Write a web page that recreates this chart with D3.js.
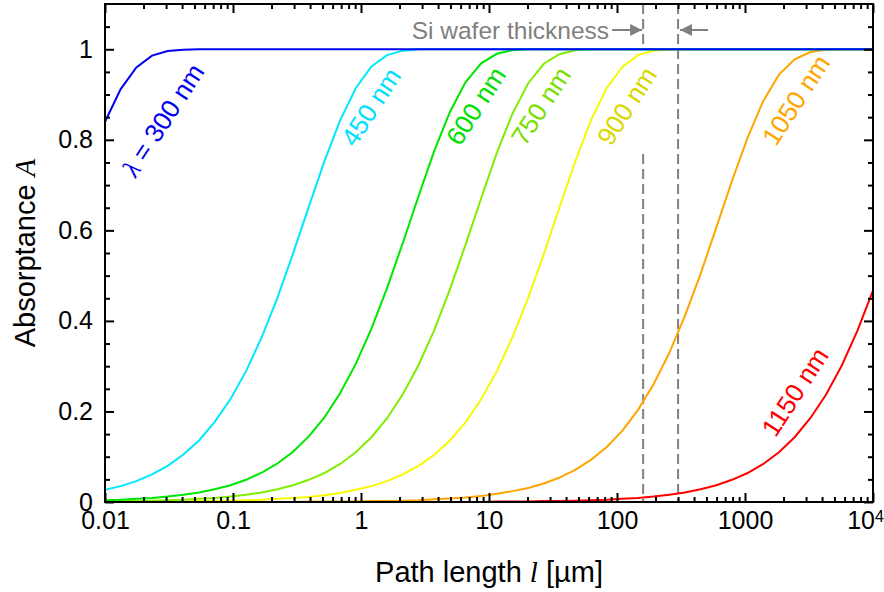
<!DOCTYPE html>
<html>
<head>
<meta charset="utf-8">
<script src="https://cdn.jsdelivr.net/npm/d3@7"></script>
<style>
  body { margin: 0; background: #fff; }
  text { font-family: "Liberation Sans", Arial, sans-serif; }
</style>
</head>
<body>
<div id="chart"></div>
<script>
// path length samples [µm]
const pathLength = [0.01, 0.01326, 0.01758, 0.0233, 0.03089, 0.04095, 0.05429, 0.07197, 0.09541, 0.1265,
  0.1677, 0.2223, 0.2947, 0.3907, 0.518, 0.6867, 0.9103, 1.207, 1.6, 2.121,
  2.812, 3.728, 4.942, 6.551, 8.685, 11.51, 15.26, 20.24, 26.83, 35.56,
  47.15, 62.51, 82.86, 109.9, 145.6, 193.1, 256, 339.3, 449.8, 596.4,
  790.6, 1048, 1390, 1842, 2442, 3237, 4292, 5690, 7543, 10000];

const absorb300 = [0.840, 0.912, 0.960, 0.986, 0.996, 0.999, 1, 1, 1, 1,
  1, 1, 1, 1, 1, 1, 1, 1, 1, 1,
  1, 1, 1, 1, 1, 1, 1, 1, 1, 1,
  1, 1, 1, 1, 1, 1, 1, 1, 1, 1,
  1, 1, 1, 1, 1, 1, 1, 1, 1, 1];
const absorb450 = [0.027, 0.035, 0.046, 0.061, 0.080, 0.105, 0.136, 0.177, 0.227, 0.289,
  0.364, 0.451, 0.549, 0.652, 0.753, 0.843, 0.914, 0.962, 0.987, 0.997,
  1, 1, 1, 1, 1, 1, 1, 1, 1, 1,
  1, 1, 1, 1, 1, 1, 1, 1, 1, 1,
  1, 1, 1, 1, 1, 1, 1, 1, 1, 1];
const absorb600 = [0.004, 0.005, 0.007, 0.009, 0.012, 0.016, 0.021, 0.028, 0.037, 0.049,
  0.065, 0.085, 0.111, 0.145, 0.187, 0.240, 0.305, 0.383, 0.473, 0.572,
  0.675, 0.775, 0.861, 0.927, 0.969, 0.990, 0.998, 1, 1, 1,
  1, 1, 1, 1, 1, 1, 1, 1, 1, 1,
  1, 1, 1, 1, 1, 1, 1, 1, 1, 1];
const absorb750 = [0.001, 0.002, 0.002, 0.003, 0.004, 0.005, 0.007, 0.009, 0.012, 0.016,
  0.021, 0.028, 0.037, 0.049, 0.064, 0.084, 0.110, 0.143, 0.185, 0.238,
  0.302, 0.379, 0.469, 0.568, 0.671, 0.771, 0.858, 0.925, 0.968, 0.989,
  0.998, 1, 1, 1, 1, 1, 1, 1, 1, 1,
  1, 1, 1, 1, 1, 1, 1, 1, 1, 1];
const absorb900 = [0, 0, 0.001, 0.001, 0.001, 0.001, 0.002, 0.002, 0.003, 0.004,
  0.005, 0.007, 0.009, 0.011, 0.015, 0.020, 0.027, 0.035, 0.046, 0.061,
  0.080, 0.104, 0.136, 0.176, 0.227, 0.289, 0.364, 0.451, 0.548, 0.651,
  0.752, 0.843, 0.914, 0.961, 0.987, 0.997, 0.999, 1, 1, 1,
  1, 1, 1, 1, 1, 1, 1, 1, 1, 1];
const absorb1050 = [0, 0, 0, 0, 0, 0, 0, 0, 0, 0,
  0, 0, 0, 0.001, 0.001, 0.001, 0.001, 0.002, 0.002, 0.003,
  0.004, 0.006, 0.008, 0.010, 0.013, 0.018, 0.024, 0.031, 0.041, 0.054,
  0.071, 0.093, 0.121, 0.157, 0.203, 0.260, 0.329, 0.411, 0.504, 0.606,
  0.709, 0.805, 0.886, 0.944, 0.978, 0.994, 0.999, 1, 1, 1];
const absorb1150 = [0, 0, 0, 0, 0, 0, 0, 0, 0, 0,
  0, 0, 0, 0, 0, 0, 0, 0, 0, 0,
  0, 0, 0, 0, 0, 0.001, 0.001, 0.001, 0.002, 0.002,
  0.003, 0.004, 0.005, 0.007, 0.009, 0.012, 0.016, 0.021, 0.028, 0.037,
  0.049, 0.064, 0.084, 0.110, 0.143, 0.185, 0.237, 0.301, 0.378, 0.467];

const wavelengths = [300, 450, 600, 750, 900, 1050, 1150];
const absorbSeries = [absorb300, absorb450, absorb600, absorb750, absorb900, absorb1050, absorb1150];
const waferThickness = [160, 300];

const xMajorTicks = [0.01, 0.1, 1, 10, 100, 1000, 10000];
const xTickLabels = ["0.01", "0.1", "1", "10", "100", "1000", "10^4"];
const yMajorTicks = [0, 0.2, 0.4, 0.6, 0.8, 1];
const yTickLabels = ["0", "0.2", "0.4", "0.6", "0.8", "1"];

// styles
const lineColors = ["#0000f0", "#00e8ff", "#00e600", "#80ee00", "#f8f800", "#ffa500", "#ff0000"];
const textColors = ["#0000f0", "#00e0ff", "#00e000", "#78e000", "#d8d800", "#ffa500", "#ff0000"];
// label centres in pixels (relative to plot area)
const labelSpots = [[58, 116], [266, 103], [371, 102], [436, 102], [522, 102], [691, 96], [690, 388]];

const margin = { top: 4, right: 11, bottom: 90, left: 105 };
const width = 884 - margin.left - margin.right;
const height = 592 - margin.top - margin.bottom;

const root = d3.select("#chart").append("svg")
  .attr("width", 884)
  .attr("height", 592);

const svg = root.append("g")
  .attr("transform", `translate(${margin.left}, ${margin.top})`);

const x = d3.scaleLog().domain([0.01, 10000]).range([0, width]);
const y = d3.scaleLinear().domain([0, 1.1]).range([height, 0]);

// minor tick values
const xMinor = [];
xMajorTicks.slice(0, -1).forEach(d => {
  for (let k = 2; k <= 9; k++) xMinor.push(d * k);
});
const yMinor = d3.range(0, 23).map(i => i * 0.05).filter(v => v < 1.1 && Math.round(v * 100) % 20 !== 0);

// wafer thickness dashed lines
const dashColor = "#808080";
const t160 = x(waferThickness[0]);
const t300 = x(waferThickness[1]);
svg.append("line")
  .attr("x1", t160).attr("x2", t160)
  .attr("y1", 0).attr("y2", y(1) - 2)
  .attr("stroke", dashColor).attr("stroke-width", 2).attr("stroke-dasharray", "10,5");
svg.append("line")
  .attr("x1", t160).attr("x2", t160)
  .attr("y1", 150).attr("y2", height)
  .attr("stroke", dashColor).attr("stroke-width", 2).attr("stroke-dasharray", "10,5");
svg.append("line")
  .attr("x1", t300).attr("x2", t300)
  .attr("y1", 0).attr("y2", height)
  .attr("stroke", dashColor).attr("stroke-width", 2).attr("stroke-dasharray", "10,5");

// curves (long wavelengths first so blue sits on top)
const line = d3.line()
  .x((d, i) => x(pathLength[i]))
  .y(d => y(d));

for (let s = absorbSeries.length - 1; s >= 0; s--) {
  svg.append("path")
    .datum(absorbSeries[s])
    .attr("fill", "none")
    .attr("stroke", lineColors[s])
    .attr("stroke-width", 2)
    .attr("d", line);
}

// curve labels
wavelengths.forEach((w, i) => {
  const t = svg.append("text")
    .attr("transform", `translate(${labelSpots[i][0]}, ${labelSpots[i][1]}) rotate(-57)`)
    .attr("text-anchor", "middle")
    .attr("dominant-baseline", "central")
    .attr("font-size", "26px")
    .attr("fill", textColors[i]);
  if (i === 0) {
    t.append("tspan").attr("font-family", "Liberation Serif").attr("font-style", "italic").text("λ");
    t.append("tspan").text(` = ${w} nm`);
  } else {
    t.text(`${w} nm`);
  }
});

// Si wafer thickness annotation
const annY = 26;
svg.append("text")
  .attr("x", t160 - 34)
  .attr("y", annY)
  .attr("text-anchor", "end")
  .attr("dominant-baseline", "central")
  .attr("font-size", "24.5px")
  .attr("fill", dashColor)
  .text("Si wafer thickness");

const defs = root.append("defs");
defs.append("marker")
  .attr("id", "arrow")
  .attr("viewBox", "0 0 10 10")
  .attr("refX", 10).attr("refY", 5)
  .attr("markerWidth", 6).attr("markerHeight", 6)
  .attr("markerUnits", "strokeWidth")
  .attr("orient", "auto")
  .append("path")
  .attr("d", "M0,0 L10,5 L0,10 Z")
  .attr("fill", dashColor);

svg.append("line")
  .attr("x1", t160 - 31).attr("x2", t160 - 1)
  .attr("y1", annY).attr("y2", annY)
  .attr("stroke", dashColor).attr("stroke-width", 2)
  .attr("marker-end", "url(#arrow)");
svg.append("line")
  .attr("x1", t300 + 30).attr("x2", t300 + 2)
  .attr("y1", annY).attr("y2", annY)
  .attr("stroke", dashColor).attr("stroke-width", 2)
  .attr("marker-end", "url(#arrow)");

// axes with inward ticks
function styleAxis(g) {
  g.select(".domain").remove();
  g.selectAll(".tick line").attr("stroke", "#000").attr("stroke-width", 2);
  g.selectAll(".tick text").attr("font-size", "25px").attr("fill", "#000");
}

const xAxis = svg.append("g")
  .attr("transform", `translate(0, ${height})`)
  .call(d3.axisBottom(x).tickValues(xMajorTicks).tickSizeInner(-9).tickSizeOuter(0).tickPadding(9)
    .tickFormat((d, i) => xTickLabels[i]))
  .call(styleAxis);
xAxis.selectAll(".tick text").filter(d => d === 10000)
  .text("10")
  .attr("x", -8)
  .append("tspan").attr("dy", "-0.45em").attr("font-size", "16px").text("4");

svg.append("g")
  .attr("transform", `translate(0, ${height})`)
  .call(d3.axisBottom(x).tickValues(xMinor).tickSizeInner(-5).tickSizeOuter(0).tickFormat(""))
  .call(styleAxis);
svg.append("g")
  .call(d3.axisTop(x).tickValues(xMajorTicks).tickSizeInner(-9).tickSizeOuter(0).tickFormat(""))
  .call(styleAxis);
svg.append("g")
  .call(d3.axisTop(x).tickValues(xMinor).tickSizeInner(-5).tickSizeOuter(0).tickFormat(""))
  .call(styleAxis);

svg.append("g")
  .call(d3.axisLeft(y).tickValues(yMajorTicks).tickSizeInner(-9).tickSizeOuter(0).tickPadding(12)
    .tickFormat((d, i) => yTickLabels[i]))
  .call(styleAxis);
svg.append("g")
  .call(d3.axisLeft(y).tickValues(yMinor).tickSizeInner(-5).tickSizeOuter(0).tickFormat(""))
  .call(styleAxis);
svg.append("g")
  .attr("transform", `translate(${width}, 0)`)
  .call(d3.axisRight(y).tickValues(yMajorTicks).tickSizeInner(-9).tickSizeOuter(0).tickFormat(""))
  .call(styleAxis);
svg.append("g")
  .attr("transform", `translate(${width}, 0)`)
  .call(d3.axisRight(y).tickValues(yMinor).tickSizeInner(-5).tickSizeOuter(0).tickFormat(""))
  .call(styleAxis);

// frame
svg.append("rect")
  .attr("width", width)
  .attr("height", height)
  .attr("fill", "none")
  .attr("stroke", "#000")
  .attr("stroke-width", 2);

// axis titles
const xTitle = svg.append("text")
  .attr("x", width / 2)
  .attr("y", height + 80)
  .attr("text-anchor", "middle")
  .attr("font-size", "29px");
xTitle.append("tspan").text("Path length ");
xTitle.append("tspan").attr("font-family", "Liberation Serif").attr("font-style", "italic").text("l");
xTitle.append("tspan").text(" [µm]");

const yTitle = svg.append("text")
  .attr("transform", `translate(-70, ${height / 2}) rotate(-90)`)
  .attr("text-anchor", "middle")
  .attr("font-size", "29px");
yTitle.append("tspan").text("Absorptance ");
yTitle.append("tspan").attr("font-family", "Liberation Serif").attr("font-style", "italic").text("A");
</script>
</body>
</html>
